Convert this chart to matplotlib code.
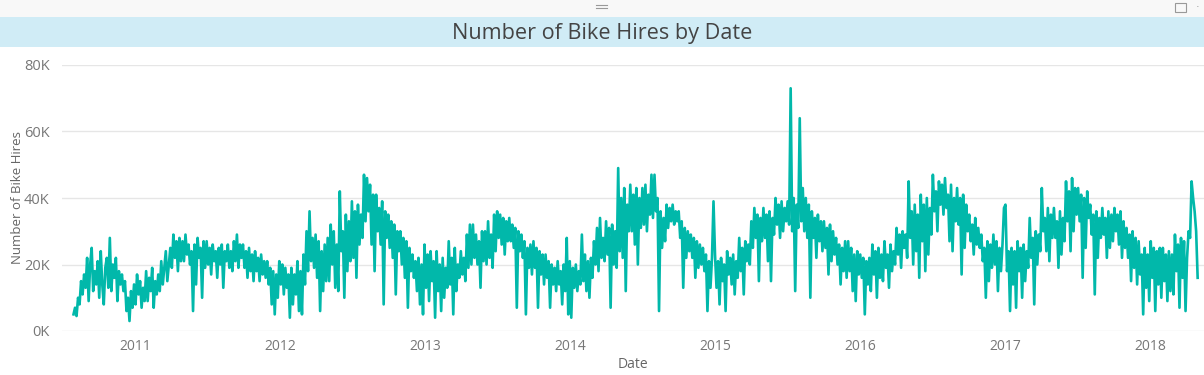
import numpy as np
import pandas as pd
import matplotlib
matplotlib.use("Agg")
import matplotlib.pyplot as plt
import matplotlib.dates as mdates
from matplotlib.patches import Rectangle
from matplotlib.lines import Line2D

# daily bike hires (thousands), 8 readings per month
v2010 = [5, 7, 4.5, 10, 8, 15, 11, 17,
         13, 22, 9, 20, 25, 12, 18, 14,
         21, 10, 24, 14, 8, 19, 22, 13,
         28, 12, 20, 16, 22, 9, 18, 14,
         17, 12, 15, 6, 10, 3, 12, 7]
v2011 = [14, 8, 17, 11, 15, 7, 13, 9,
         18, 9, 16, 12, 19, 7, 15, 11,
         17, 12, 21, 14, 19, 24, 15, 20,
         25, 19, 29, 22, 27, 18, 28, 21,
         27, 21, 29, 23, 26, 20, 24, 6,
         26, 14, 28, 22, 25, 10, 27, 19,
         27, 20, 25, 17, 26, 21, 24, 16,
         25, 20, 26, 13, 24, 21, 26, 19,
         24, 18, 27, 21, 29, 19, 26, 22,
         26, 19, 24, 16, 25, 18, 23, 15,
         24, 18, 22, 15, 23, 17, 21, 16,
         21, 14, 19, 8, 18, 5, 17, 10]
v2012 = [21, 14, 20, 11, 19, 13, 17, 4,
         19, 8, 17, 11, 21, 6, 18, 5,
         23, 14, 30, 18, 36, 21, 28, 19,
         29, 16, 27, 6, 24, 12, 26, 15,
         28, 15, 32, 20, 30, 13, 26, 12,
         42, 24, 30, 10, 35, 18, 33, 21,
         39, 22, 36, 16, 38, 26, 35, 28,
         47, 33, 46, 36, 44, 26, 41, 18,
         41, 30, 37, 26, 39, 8, 36, 28,
         35, 25, 33, 22, 32, 11, 30, 24,
         30, 20, 28, 16, 27, 7, 25, 18,
         23, 16, 21, 12, 22, 8, 20, 5]
v2013 = [26, 13, 23, 9, 24, 15, 21, 4,
         24, 12, 20, 6, 22, 10, 19, 13,
         27, 14, 22, 5, 25, 12, 20, 16,
         24, 17, 22, 15, 29, 19, 32, 20,
         32, 22, 29, 20, 27, 13, 30, 21,
         30, 20, 33, 22, 29, 19, 35, 24,
         36, 28, 35, 26, 34, 23, 33, 27,
         34, 27, 32, 25, 31, 7, 30, 24,
         29, 22, 27, 5, 25, 19, 26, 17,
         27, 19, 25, 7, 24, 17, 23, 14,
         23, 16, 21, 7, 20, 14, 19, 12,
         21, 14, 18, 8, 20, 12, 28, 5]
v2014 = [21, 4, 19, 13, 20, 12, 18, 14,
         29, 15, 23, 12, 21, 10, 22, 16,
         27, 20, 31, 18, 34, 22, 28, 21,
         33, 23, 31, 7, 32, 20, 30, 19,
         49, 24, 40, 22, 43, 12, 38, 30,
         44, 30, 41, 26, 43, 20, 40, 31,
         43, 32, 44, 30, 41, 35, 47, 34,
         47, 36, 40, 6, 36, 25, 34, 27,
         38, 31, 37, 33, 38, 32, 36, 33,
         36, 28, 33, 13, 31, 22, 30, 24,
         29, 22, 28, 16, 27, 19, 26, 20,
         25, 18, 23, 6, 21, 13, 22, 39]
v2015 = [23, 13, 21, 8, 22, 15, 20, 6,
         24, 17, 22, 14, 23, 11, 21, 16,
         28, 18, 25, 11, 27, 21, 26, 20,
         33, 25, 37, 28, 35, 15, 34, 27,
         37, 28, 35, 21, 36, 15, 34, 29,
         40, 32, 38, 28, 39, 30, 37, 33,
         39, 32, 73, 30, 40, 12, 38, 31,
         64, 33, 43, 30, 40, 28, 38, 10,
         36, 28, 34, 22, 35, 27, 33, 24,
         33, 25, 31, 17, 32, 21, 30, 23,
         28, 20, 26, 14, 25, 18, 27, 16,
         27, 18, 25, 12, 23, 9, 24, 17]
v2016 = [23, 16, 22, 5, 21, 14, 22, 12,
         26, 17, 24, 10, 25, 16, 23, 15,
         27, 19, 23, 13, 26, 18, 24, 20,
         31, 23, 29, 19, 30, 25, 29, 22,
         45, 28, 36, 20, 38, 24, 35, 16,
         41, 27, 38, 18, 40, 23, 37, 29,
         47, 36, 42, 30, 45, 38, 44, 35,
         46, 37, 41, 27, 44, 24, 40, 33,
         43, 32, 40, 17, 41, 25, 38, 30,
         35, 27, 32, 23, 34, 26, 31, 25,
         29, 21, 25, 10, 27, 15, 26, 19,
         29, 20, 27, 12, 25, 18, 26, 37]
v2017 = [38, 18, 24, 6, 25, 14, 24, 7,
         27, 18, 25, 10, 26, 15, 24, 19,
         34, 22, 28, 8, 30, 20, 29, 24,
         43, 30, 34, 24, 37, 21, 35, 28,
         37, 28, 33, 19, 36, 23, 34, 27,
         45, 33, 42, 24, 46, 30, 43, 35,
         43, 33, 41, 16, 40, 25, 42, 34,
         38, 29, 35, 11, 36, 22, 34, 28,
         37, 29, 34, 22, 36, 25, 35, 27,
         37, 30, 35, 26, 36, 22, 33, 25,
         31, 22, 29, 15, 30, 19, 28, 14,
         27, 17, 23, 5, 25, 13, 23, 9]
v2018 = [27, 16, 25, 6, 24, 14, 25, 10,
         25, 15, 23, 9, 24, 12, 23, 11,
         29, 18, 26, 7, 28, 16, 27, 6,
         22, 30, 28, 45, 40, 36, 30, 16]

start_date = "2010-07-30"
end_date = "2018-04-30"
year_ticks = list(range(2011, 2019))

hires = np.array(v2010 + v2011 + v2012 + v2013 + v2014 + v2015 + v2016 + v2017 + v2018) * 1000
dates = pd.date_range(start_date, end_date, periods=len(hires))

fonts = ["Open Sans", "DejaVu Sans"]

fig = plt.figure(figsize=(12.04, 3.75), dpi=100)
fig.patch.set_facecolor("white")

# header strip + title band
fig.add_artist(Rectangle((0, 1 - 17 / 375), 1, 17 / 375, transform=fig.transFigure,
                         facecolor="#f8f8f8", edgecolor="none"))
fig.add_artist(Rectangle((0, 1 - 47 / 375), 1, 30 / 375, transform=fig.transFigure,
                         facecolor="#d0ecf6", edgecolor="none"))
for yy in (4.5, 7.5):
    fig.add_artist(Line2D([596 / 1204, 607 / 1204], [1 - yy / 375] * 2,
                          transform=fig.transFigure, color="#999999", lw=0.8))
fig.add_artist(Rectangle((1175 / 1204, 1 - 12 / 375), 11 / 1204, 9 / 375, transform=fig.transFigure,
                         facecolor="none", edgecolor="#999999", lw=0.8))
fig.text(1198 / 1204, 1 - 7 / 375, "\u00b7", color="#999999", fontsize=8, ha="center", va="center")

fig.text(0.5, 1 - 33 / 375, "Number of Bike Hires by Date", ha="center", va="center",
         fontsize=15.6, color="#444444", family=fonts)

ax = fig.add_axes([62 / 1204, 1 - 331 / 375, 1 - 62 / 1204, 266 / 375])
ax.plot(dates, hires, color="#01b8aa", lw=1.9)

ax.set_ylim(0, 80000)
ax.set_yticks([0, 20000, 40000, 60000, 80000])
ax.set_yticklabels(["0K", "20K", "40K", "60K", "80K"])
ax.set_xlim(pd.Timestamp("2010-07-01"), pd.Timestamp("2018-05-16"))
ax.set_xticks([pd.Timestamp(f"{y}-01-01") for y in year_ticks])
ax.xaxis.set_major_formatter(mdates.DateFormatter("%Y"))

ax.grid(axis="y", color="#e6e6e6", lw=1)
ax.set_axisbelow(True)
for s in ax.spines.values():
    s.set_visible(False)
ax.tick_params(length=0, labelsize=10, colors="#777777")
ax.tick_params(axis="y", pad=9, labelsize=10.5)
ax.tick_params(axis="x", pad=6)
for lab in ax.get_xticklabels() + ax.get_yticklabels():
    lab.set_family(fonts)

ax.set_xlabel("Date", fontsize=10, color="#666666", family=fonts, labelpad=2)
ax.set_ylabel("Number of Bike Hires", fontsize=9.5, color="#666666", family=fonts, labelpad=0)

fig.savefig("out.png", dpi=100)
